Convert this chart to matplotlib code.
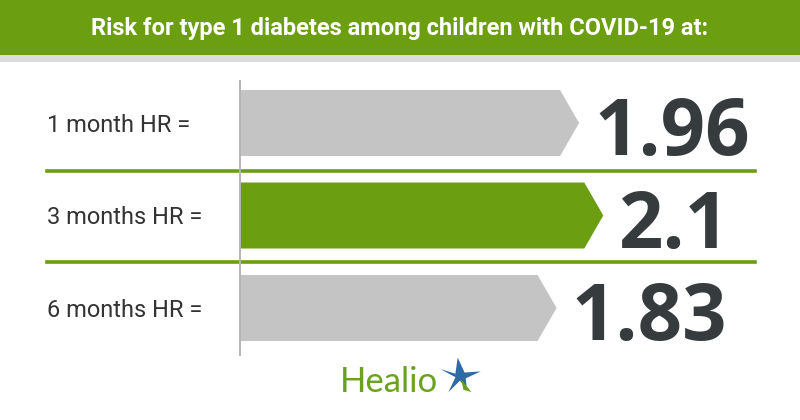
import matplotlib
matplotlib.use("Agg")
import matplotlib.pyplot as plt
from matplotlib.patches import Polygon, Rectangle

# ---- data ----
categories = ["1 month HR =", "3 months HR =", "6 months HR ="]
hr_values = [1.96, 2.1, 1.83]
value_labels = ["1.96", "2.1", "1.83"]
bar_colors = ["#c4c4c4", "#6b9e11", "#c4c4c4"]
title = "Risk for type 1 diabetes among children with COVID-19 at:"

W, H = 800, 420
fig = plt.figure(figsize=(8, 4.2), dpi=100)
fig.patch.set_facecolor("white")

def fy(py):
    return 1 - py / H

# header
fig.patches.append(Rectangle((0, fy(55)), 1, 55 / H, transform=fig.transFigure,
                             facecolor="#6b9e11", edgecolor="none", zorder=0))
fig.patches.append(Rectangle((0, fy(62)), 1, 7 / H, transform=fig.transFigure,
                             facecolor="#dcdcdc", edgecolor="none", zorder=0))
fig.text(0.5, fy(29), title, ha="center", va="center", color="white",
         fontsize=17, fontweight="bold", family="Roboto")

# main axes: x = HR value, y = category index
ax_left, ax_right, ax_top, ax_bot = 240, 760, 81, 355
ax = fig.add_axes([ax_left / W, fy(ax_bot), (ax_right - ax_left) / W, (ax_bot - ax_top) / H])
px_per_unit = 173.0
ax.set_xlim(0, (ax_right - ax_left) / px_per_unit)
row_px = 92.5
ymin = -(123 - ax_top) / row_px
ymax = 2 + (ax_bot - 308) / row_px
ax.set_ylim(ymax, ymin)

bar_h = 66 / row_px
tip = 19 / px_per_unit
for i, (v, c) in enumerate(zip(hr_values, bar_colors)):
    y0, y1 = i - bar_h / 2, i + bar_h / 2
    poly = Polygon([(0, y0), (v - tip, y0), (v, i), (v - tip, y1), (0, y1)],
                   closed=True, facecolor=c, edgecolor="none", zorder=2)
    ax.add_patch(poly)
    ax.text(v + 15 / px_per_unit, y1 - 0.01, value_labels[i], ha="left", va="baseline",
            fontsize=56, fontweight="bold", family="Open Sans", color="#363c3e", zorder=3)

# separators
for ysep in [0.52, 1.5]:
    ax.axhline(ysep, xmin=(47 - ax_left) / (ax_right - ax_left),
               xmax=(755 - ax_left) / (ax_right - ax_left),
               color="#6b9e11", lw=2.6, clip_on=False, zorder=1)

for s in ["top", "right", "bottom"]:
    ax.spines[s].set_visible(False)
ax.spines["left"].set_color("#b5b5b5")
ax.spines["left"].set_linewidth(1.4)
ax.spines["left"].set_zorder(4)
ax.set_xticks([])
ax.set_yticks(range(len(categories)))
ax.set_yticklabels(categories, fontsize=17, family="Roboto", color="#333333", ha="left")
ax.tick_params(axis="y", length=0, pad=(ax_left - 47) * 0.72)
ax.set_facecolor("none")

# Healio logo
fig.text(340 / W, fy(392), "Healio", ha="left", va="baseline", fontsize=25,
         family="Lato", color="#6aa121")
cx, cy = 460 / W, fy(376)
sx, sy = 1 / W, 1 / H
k = 1.15
star = [(-17, 6), (-4, 2), (-2, 16), (4, 3), (18, 4), (5, -2), (6, -12), (0, -4), (-10, -14), (-4, -1)]
fig.patches.append(Polygon([(cx + k * a * sx, cy + k * b * sy) for a, b in star], closed=True,
                           transform=fig.transFigure, facecolor="#2d6aa6", edgecolor="none"))
fig.patches.append(Polygon([(cx + k * a * sx, cy + k * b * sy) for a, b in [(1, -3), (10, -14), (3, -12)]],
                           closed=True, transform=fig.transFigure, facecolor="#6aa121", edgecolor="none"))

fig.savefig("out.png", dpi=100, facecolor="white")
